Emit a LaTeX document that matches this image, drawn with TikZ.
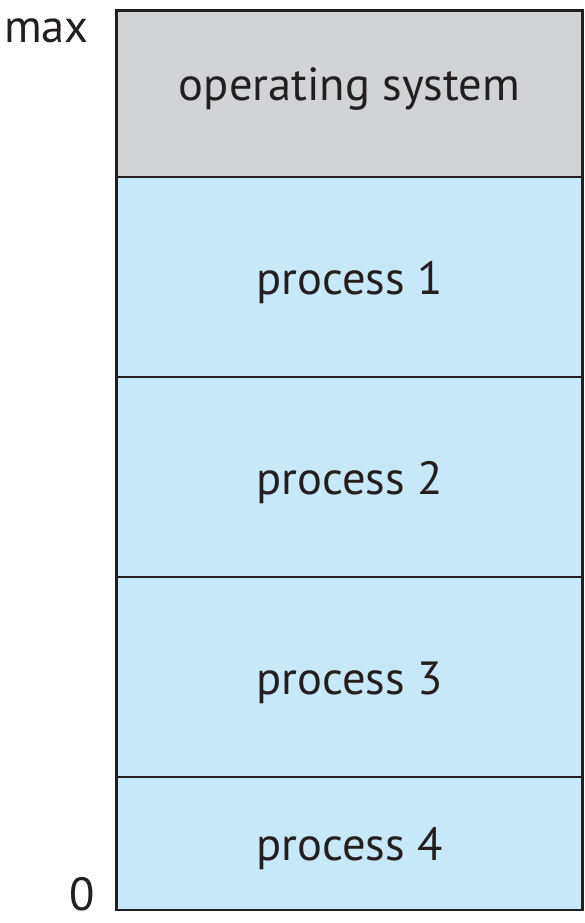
\documentclass[tikz,border=0pt]{standalone}
\usepackage{fontspec}
\setmainfont{PT Sans}
\usepackage{xcolor}
\usetikzlibrary{positioning}

\definecolor{osgray}{HTML}{D1D3D4}
\definecolor{procblue}{HTML}{C7E8F8}
\definecolor{inkdark}{HTML}{231F20}

\begin{document}
\begin{tikzpicture}[x=1bp,y=1bp,node distance=0pt,
                    seg/.style={rectangle,draw=inkdark,line width=1.8bp,fill=procblue,
                      minimum width=466bp,inner sep=0pt,outer sep=0pt,
                      text=inkdark,font=\fontsize{46.5bp}{46.5bp}\selectfont,
                      text height=34bp,text depth=0pt},
                    side label/.style={text=inkdark,font=\fontsize{46.5bp}{46.5bp}\selectfont,inner sep=0pt}]

  \useasboundingbox (0,0) rectangle (585,-923);

  \node[seg,fill=osgray,minimum height=166.5bp,text height=12.5bp] (os) at (349.5,-93.75) {operating system};
  \node[seg,minimum height=200bp] (p1) [below=of os] {process 1};
  \node[seg,minimum height=200bp] (p2) [below=of p1] {process 2};
  \node[seg,minimum height=200bp] (p3) [below=of p2] {process 3};
  \node[seg,minimum height=133bp] (p4) [below=of p3] {process 4};

  \draw[inkdark,line width=2.5bp] (os.north west) rectangle (p4.south east);

  \node[side label,anchor=base east] (max) at ([xshift=-27.5bp,yshift=-31.5bp]os.north west) {max};
  \node[side label,anchor=base east] (zero) at ([xshift=-21.5bp]p4.south west) {0};
\end{tikzpicture}
\end{document}
